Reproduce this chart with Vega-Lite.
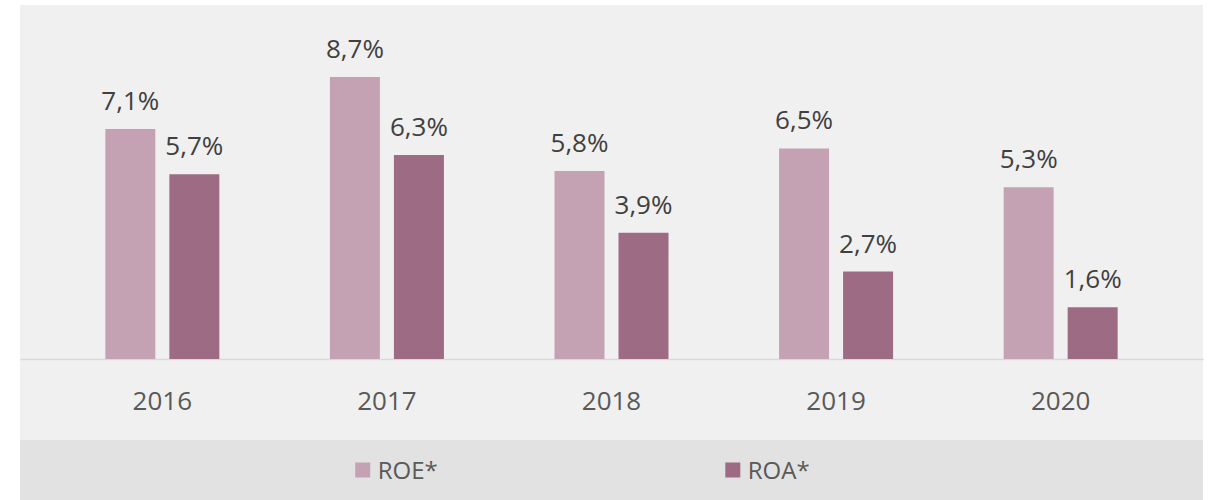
{
  "$schema": "https://vega.github.io/schema/vega-lite/v6.json",
  "background": "white",
  "padding": {"left": 20, "top": 5, "right": 7, "bottom": 0},
  "spacing": 0,
  "config": {
    "locale": {"number": {"decimal": ",", "thousands": ".", "grouping": [3], "currency": ["", " €"]}},
    "font": "Open Sans",
    "axis": {"grid": false},
    "concat": {"spacing": 0}
  },
  "vconcat": [
    {
      "width": 1183,
      "height": 435,
      "view": {"fill": "#f0f0f0", "stroke": null},
      "data": {"values": [
        {"year": "2016", "series": "ROE*", "value": 0.071},
        {"year": "2016", "series": "ROA*", "value": 0.057},
        {"year": "2017", "series": "ROE*", "value": 0.087},
        {"year": "2017", "series": "ROA*", "value": 0.063},
        {"year": "2018", "series": "ROE*", "value": 0.058},
        {"year": "2018", "series": "ROA*", "value": 0.039},
        {"year": "2019", "series": "ROE*", "value": 0.065},
        {"year": "2019", "series": "ROA*", "value": 0.027},
        {"year": "2020", "series": "ROE*", "value": 0.053},
        {"year": "2020", "series": "ROA*", "value": 0.016}
      ]},
      "encoding": {
        "x": {
          "field": "year", "type": "nominal",
          "scale": {"paddingInner": 0.4924, "paddingOuter": 0.38},
          "axis": {
            "title": null, "orient": "bottom", "offset": -81,
            "domainColor": "#d9d9d9", "domainWidth": 1.5,
            "ticks": false, "labelPadding": 29, "labelFontSize": 26,
            "labelColor": "#595959", "labelFont": "Open Sans", "labelAngle": 0
          }
        },
        "xOffset": {"field": "series", "type": "nominal", "scale": {"domain": ["ROE*", "ROA*"], "paddingInner": 0.219}},
        "y": {"field": "value", "type": "quantitative", "scale": {"domain": [-0.025, 0.10926], "nice": false, "zero": false}, "axis": null}
      },
      "layer": [
        {
          "mark": {"type": "bar"},
          "encoding": {
            "color": {"field": "series", "type": "nominal", "scale": {"domain": ["ROE*", "ROA*"], "range": ["#c4a2b3", "#9e6b85"]}, "legend": null}
          }
        },
        {
          "mark": {"type": "text", "baseline": "alphabetic", "dy": -19, "fontSize": 26, "color": "#404040", "font": "Open Sans"},
          "encoding": {"text": {"field": "value", "type": "quantitative", "format": ".1%"}}
        }
      ]
    },
    {
      "width": 1183,
      "height": 60,
      "view": {"fill": "#e2e2e2", "stroke": null},
      "data": {"values": [{"series": "ROE*"}, {"series": "ROA*"}]},
      "encoding": {
        "x": {"field": "series", "type": "nominal", "scale": {"type": "point", "domain": ["ROE*", "ROA*"], "range": [342.7, 712.8], "padding": 0}, "axis": null}
      },
      "layer": [
        {
          "mark": {"type": "point", "shape": "square", "size": 225, "filled": true, "opacity": 1},
          "encoding": {"color": {"field": "series", "type": "nominal", "scale": {"domain": ["ROE*", "ROA*"], "range": ["#c4a2b3", "#9e6b85"]}, "legend": null}}
        },
        {
          "mark": {"type": "text", "align": "left", "baseline": "middle", "dx": 15, "dy": 2, "fontSize": 24, "color": "#595959", "font": "Open Sans"},
          "encoding": {"text": {"field": "series", "type": "nominal"}}
        }
      ]
    }
  ]
}
